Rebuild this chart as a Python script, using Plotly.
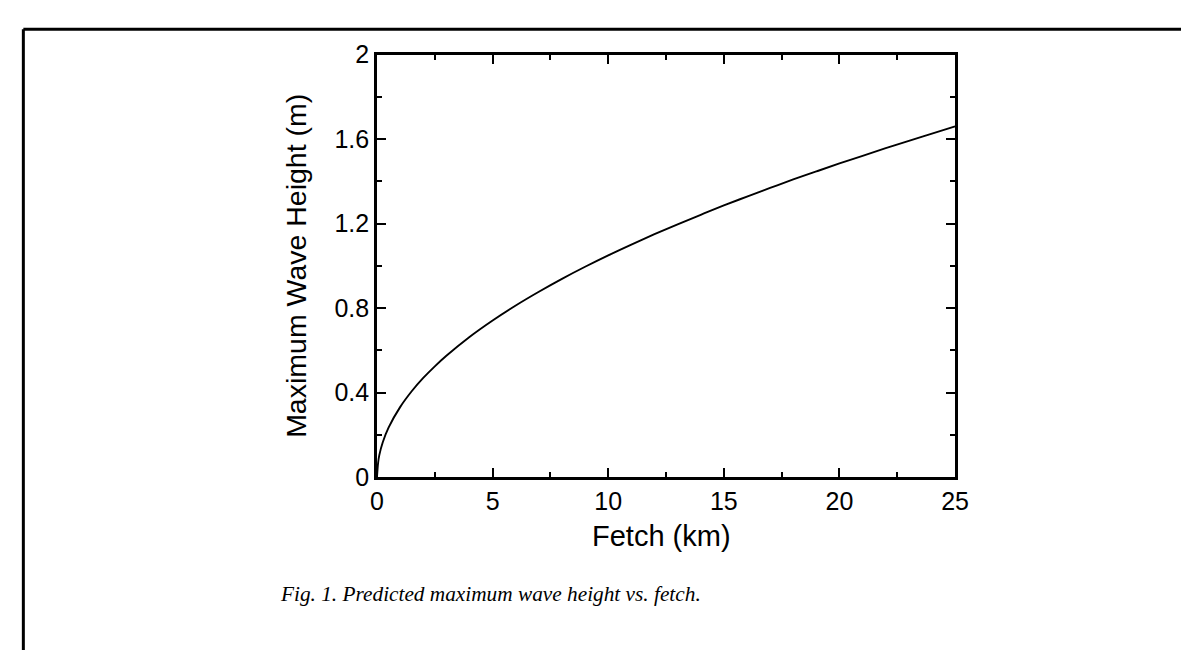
import plotly.graph_objects as go

fetch_km = [0, 0.05, 0.1, 0.25, 0.5, 1, 1.5, 2, 2.5, 3, 4, 5, 6, 7, 8, 9, 10,
            11, 12, 13, 14, 15, 16, 17, 18, 19, 20, 21, 22, 23, 24, 25]
wave_height_m = [0.0, 0.07, 0.105, 0.166, 0.235, 0.332, 0.407, 0.470, 0.525, 0.575,
                 0.664, 0.742, 0.813, 0.878, 0.939, 0.996, 1.050, 1.101, 1.150,
                 1.197, 1.242, 1.286, 1.328, 1.369, 1.409, 1.447, 1.485, 1.521,
                 1.557, 1.592, 1.626, 1.660]

x_ticks = [0, 5, 10, 15, 20, 25]
y_ticks = [0, 0.4, 0.8, 1.2, 1.6, 2]
y_tick_text = ["0", "0.4", "0.8", "1.2", "1.6", "2"]

W, H = 1189, 656
L, R, T, B = 368.5, 957, 34, 475.6

fig = go.Figure()
fig.add_trace(go.Scatter(x=fetch_km, y=wave_height_m, mode="lines",
                         line=dict(color="black", width=1.9, shape="spline"),
                         showlegend=False, hoverinfo="skip"))

axis_font = dict(family="Liberation Sans, Arial, sans-serif", size=25, color="black")

shapes = [
    dict(type="line", xref="paper", yref="paper", x0=8.5 / W, x1=8.5 / W, y0=0, y1=1 - 7.5 / H,
         line=dict(color="black", width=3)),
    dict(type="line", xref="paper", yref="paper", x0=8.5 / W, x1=1.01, y0=1 - 7.5 / H, y1=1 - 7.5 / H,
         line=dict(color="black", width=3)),
]

fig.update_layout(
    width=W, height=H, margin=dict(l=0, r=0, t=0, b=0),
    paper_bgcolor="white", plot_bgcolor="white",
    xaxis=dict(domain=[L / W, R / W], range=[0, 25], tickvals=x_ticks,
               ticks="inside", ticklen=10, tickwidth=2, tickcolor="black",
               minor=dict(dtick=2.5, tick0=0, ticks="inside", ticklen=6, tickwidth=2, tickcolor="black"),
               showline=True, linewidth=2.5, linecolor="black", mirror="ticks",
               showgrid=False, zeroline=False, tickfont=axis_font,
               ticklabelstandoff=0, fixedrange=True),
    yaxis=dict(domain=[1 - B / H, 1 - T / H], range=[0, 2], tickvals=y_ticks,
               ticktext=y_tick_text,
               ticks="inside", ticklen=9, tickwidth=2, tickcolor="black",
               minor=dict(dtick=0.2, tick0=0, ticks="inside", ticklen=5, tickwidth=2, tickcolor="black"),
               showline=True, linewidth=2.5, linecolor="black", mirror="ticks",
               showgrid=False, zeroline=False, tickfont=axis_font,
               ticklabelstandoff=0, fixedrange=True),
    annotations=[
        dict(text="Fetch (km)", xref="paper", yref="paper",
             x=658 / W, y=1 - 537 / H, xanchor="center", yanchor="middle",
             showarrow=False, font=dict(family="Liberation Sans, Arial, sans-serif", size=29, color="black")),
        dict(text="Maximum Wave Height (m)", xref="paper", yref="paper",
             x=286 / W, y=1 - ((T + B) / 2) / H, xanchor="center", yanchor="middle",
             textangle=-90, showarrow=False,
             font=dict(family="Liberation Sans, Arial, sans-serif", size=28.5, color="black")),
        dict(text="<i>Fig. 1. Predicted maximum wave height vs. fetch.</i>", xref="paper", yref="paper",
             x=268 / W, y=1 - 597 / H, xanchor="left", yanchor="middle",
             showarrow=False, font=dict(family="Liberation Serif, Times New Roman, serif", size=21.3, color="black")),
    ],
    shapes=shapes,
)

fig.write_html("out.html", config={"displayModeBar": False})
